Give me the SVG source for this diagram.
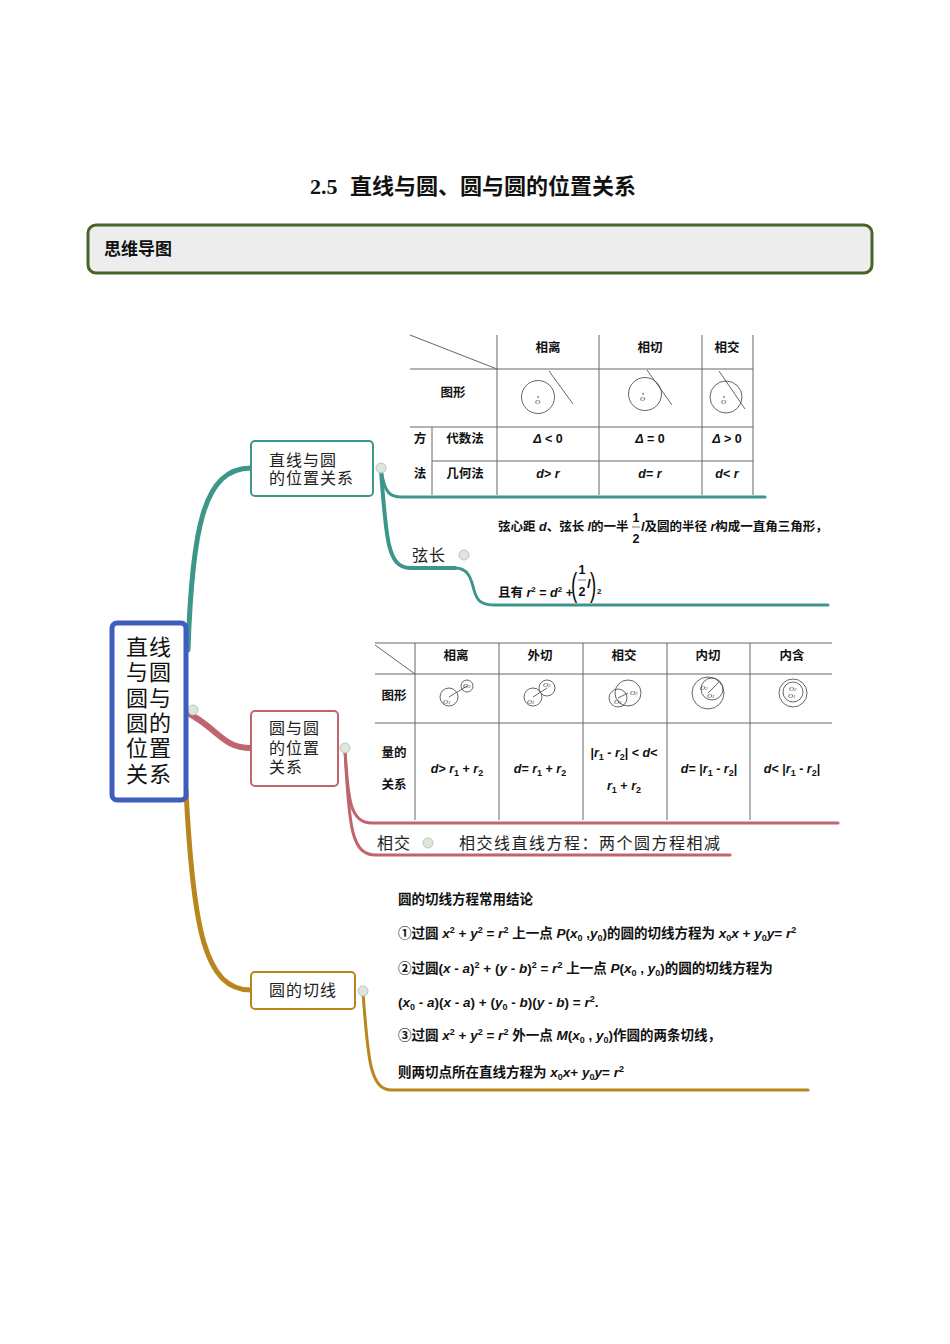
<svg xmlns="http://www.w3.org/2000/svg" width="950" height="1344" viewBox="0 0 950 1344">
<style>
.title{font-family:"Liberation Serif","Noto Sans CJK SC",serif;font-weight:bold;font-size:22px;fill:#111}
.hdr{font-family:"Noto Sans CJK SC",sans-serif;font-weight:bold;font-size:17px;fill:#111}
.nd{font-family:"Noto Sans CJK SC",sans-serif;font-size:16px;letter-spacing:1px;fill:#222}
.ctr{font-family:"Noto Sans CJK SC",sans-serif;font-size:22px;letter-spacing:1px;fill:#111}
.t{font-family:"Liberation Sans","Noto Sans CJK SC",sans-serif;font-weight:bold;font-size:12.5px;fill:#111}
.tn{font-family:"Liberation Sans","Noto Sans CJK SC",sans-serif;font-weight:bold;font-size:13.5px;fill:#111}
.tc{font-family:"Liberation Sans","Noto Sans CJK SC",sans-serif;font-weight:bold;font-size:12.5px;fill:#111;text-anchor:middle}
.i{font-style:italic}
.s{font-size:8px}
.s9{font-size:9px}
.tiny{font-family:"Liberation Serif",serif;font-style:italic;font-size:7px;fill:#333}
.grid{stroke:#666;stroke-width:1;fill:none}
.fig{stroke:#555;stroke-width:0.9;fill:none}
.teal{stroke:#3d968a;fill:none;stroke-linecap:round}
.pink{stroke:#c0646e;fill:none;stroke-linecap:round}
.gold{stroke:#b8861c;fill:none;stroke-linecap:round}
.knob{fill:#dfe7dc;stroke:#b9c7b6;stroke-width:1}
</style>

<!-- title and header -->
<text class="title" x="310" y="194">2.5<tspan x="350">直线与圆、圆与圆的位置关系</tspan></text>
<rect x="88" y="225" width="784" height="48" rx="8" fill="#ededed" stroke="#4a6328" stroke-width="3"/>
<text class="hdr" x="104" y="255">思维导图</text>

<!-- connectors -->
<g id="connectors">
  <path class="teal" d="M188,650 C192,530 203,468 251,468" stroke-width="5"/>
  <path class="pink" d="M186,712 C218,728 222,748 251,748" stroke-width="6"/>
  <path class="gold" d="M186,790 C193,930 205,990 251,990" stroke-width="5"/>

  <path class="teal" d="M381,470 C385,494 390,497 402,497 L765,497" stroke-width="3"/>
  <path class="teal" d="M381,470 C386,540 388,568 410,568 L455,568" stroke-width="4"/>
  <path class="teal" d="M455,568 C468,568 471,578 474,590 C477,601 481,605 495,605 L828,605" stroke-width="3"/>

  <path class="pink" d="M345,750 C348,800 350,823 372,823 L838,823" stroke-width="3"/>
  <path class="pink" d="M345,750 C349,830 352,855 376,855 L730,855" stroke-width="3"/>

  <path class="gold" d="M363,993 C368,1060 370,1090 392,1090 L808,1090" stroke-width="3"/>

  <circle class="knob" cx="193" cy="710" r="5"/>
  <circle class="knob" cx="381" cy="468" r="5"/>
  <circle class="knob" cx="464" cy="555" r="5"/>
  <circle class="knob" cx="345" cy="748" r="5"/>
  <circle class="knob" cx="428" cy="843" r="5"/>
  <circle class="knob" cx="363" cy="991" r="5"/>
</g>

<!-- central node -->
<g id="center">
  <rect x="112" y="623" width="74" height="177" rx="5" fill="#fff" stroke="#3f5cc0" stroke-width="5"/>
  <text class="ctr" x="126" y="655">直线<tspan x="126" dy="25">与圆</tspan><tspan x="126" dy="26">圆与</tspan><tspan x="126" dy="25">圆的</tspan><tspan x="126" dy="25">位置</tspan><tspan x="126" dy="26">关系</tspan></text>
</g>

<!-- node 1 -->
<g id="node-line-circle">
  <rect x="251" y="441" width="122" height="55" rx="4" fill="#fff" stroke="#3d968a" stroke-width="2"/>
  <text class="nd" x="269" y="466">直线与圆<tspan x="269" dy="18">的位置关系</tspan></text>
</g>

<!-- table 1 -->
<g id="table-line-circle">
  <path class="grid" d="M410,335 L497,369 M410,369 H753 M410,427 H753 M432,461 H753 M497,335 V495 M599,335 V495 M702,335 V495 M753,335 V495 M432,427 V495"/>
  <text class="tc" x="548" y="352">相离</text>
  <text class="tc" x="650" y="352">相切</text>
  <text class="tc" x="727" y="352">相交</text>
  <text class="tc" x="453" y="397">图形</text>
  <circle class="fig" cx="538" cy="397" r="16.5"/>
  <line class="fig" x1="549" y1="371" x2="573" y2="404"/>
  <circle cx="538" cy="397" r="0.8" fill="#333"/><text class="tiny" x="535" y="404">O</text>
  <circle class="fig" cx="645" cy="394" r="16.5"/>
  <line class="fig" x1="647" y1="370" x2="672" y2="405"/>
  <circle cx="643" cy="394" r="0.8" fill="#333"/><text class="tiny" x="640" y="401">O</text>
  <circle class="fig" cx="726" cy="397" r="16"/>
  <line class="fig" x1="719" y1="371" x2="745" y2="409"/>
  <circle cx="724" cy="397" r="0.8" fill="#333"/><text class="tiny" x="721" y="404">O</text>
  <text class="tc" x="420" y="443">方</text>
  <text class="tc" x="420" y="478">法</text>
  <text class="tc" x="465" y="443">代数法</text>
  <text class="tc" x="465" y="478">几何法</text>
  <text class="tc" x="548" y="443"><tspan class="i">Δ</tspan> &lt; 0</text>
  <text class="tc" x="650" y="443"><tspan class="i">Δ</tspan> = 0</text>
  <text class="tc" x="727" y="443"><tspan class="i">Δ</tspan> &gt; 0</text>
  <text class="tc" x="548" y="478"><tspan class="i">d</tspan>&gt; <tspan class="i">r</tspan></text>
  <text class="tc" x="650" y="478"><tspan class="i">d</tspan>= <tspan class="i">r</tspan></text>
  <text class="tc" x="727" y="478"><tspan class="i">d</tspan>&lt; <tspan class="i">r</tspan></text>
</g>

<!-- chord -->
<g id="node-chord">
  <text class="nd" x="412" y="561">弦长</text>
  <text class="t" x="498" y="531">弦心距 <tspan class="i">d</tspan>、弦长 <tspan class="i">l</tspan>的一半</text>
  <text class="tc" x="636" y="522">1</text>
  <line x1="632" y1="527" x2="640" y2="527" stroke="#555" stroke-width="0.8"/>
  <text class="tc" x="636" y="543">2</text>
  <text class="t" x="641" y="531"><tspan class="i">l</tspan>及圆的半径 <tspan class="i">r</tspan>构成一直角三角形，</text>
  <text class="t" x="498" y="597">且有 <tspan class="i">r</tspan><tspan class="s" dy="-5">2</tspan><tspan dy="5"> = </tspan><tspan class="i">d</tspan><tspan class="s" dy="-5">2</tspan><tspan dy="5"> +</tspan></text>
  <text x="571" y="596" font-family="Liberation Sans,sans-serif" font-size="34" fill="#111" transform="translate(571 596) scale(0.55 1) translate(-571 -596)">(</text>
  <text class="tc" x="582" y="574">1</text>
  <line x1="578" y1="580" x2="586" y2="580" stroke="#555" stroke-width="0.8"/>
  <text class="tc" x="582" y="596">2</text>
  <text class="t" x="587" y="588"><tspan class="i">l</tspan></text>
  <text x="590" y="596" font-family="Liberation Sans,sans-serif" font-size="34" fill="#111" transform="translate(590 596) scale(0.55 1) translate(-590 -596)">)</text>
  <text class="t s" x="597" y="594">2</text>
</g>

<!-- node 2 -->
<g id="node-circle-circle">
  <rect x="251" y="711" width="87" height="75" rx="4" fill="#fff" stroke="#c0646e" stroke-width="2"/>
  <text class="nd" x="269" y="734">圆与圆<tspan x="269" dy="20">的位置</tspan><tspan x="269" dy="19">关系</tspan></text>
</g>

<!-- table 2 -->
<g id="table-circle-circle">
  <path class="grid" d="M375,645 L415,674 M375,643 H832 M375,674 H832 M375,723 H832 M415,643 V820 M499,643 V820 M583,643 V820 M667,643 V820 M750,643 V820"/>
  <text class="tc" x="456" y="660">相离</text>
  <text class="tc" x="540" y="660">外切</text>
  <text class="tc" x="624" y="660">相交</text>
  <text class="tc" x="708" y="660">内切</text>
  <text class="tc" x="792" y="660">内含</text>
  <text class="tc" x="394" y="700">图形</text>
  <text class="tc" x="394" y="757">量的<tspan x="394" dy="32">关系</tspan></text>

  <circle class="fig" cx="449" cy="697" r="9"/><circle class="fig" cx="467" cy="686" r="6"/>
  <line class="fig" x1="449" y1="697" x2="467" y2="686"/>
  <text class="tiny" x="443" y="704">O<tspan font-size="5">1</tspan></text><text class="tiny" x="463" y="688">O<tspan font-size="5">2</tspan></text>

  <circle class="fig" cx="533" cy="697" r="9"/><circle class="fig" cx="547" cy="688" r="8"/>
  <line class="fig" x1="533" y1="697" x2="547" y2="688"/>
  <text class="tiny" x="527" y="704">O<tspan font-size="5">1</tspan></text><text class="tiny" x="543" y="687">O<tspan font-size="5">2</tspan></text>

  <circle class="fig" cx="618" cy="698" r="9"/><circle class="fig" cx="628" cy="693" r="13"/>
  <line class="fig" x1="618" y1="698" x2="628" y2="693"/>
  <text class="tiny" x="614" y="704">O<tspan font-size="5">1</tspan></text><text class="tiny" x="630" y="695">O<tspan font-size="5">2</tspan></text>

  <circle class="fig" cx="708" cy="693" r="16"/><circle class="fig" cx="712" cy="689" r="11"/>
  <line class="fig" x1="708" y1="693" x2="719" y2="682"/>
  <text class="tiny" x="700" y="690">O<tspan font-size="5">2</tspan></text><text class="tiny" x="707" y="698">O<tspan font-size="5">1</tspan></text>

  <circle class="fig" cx="793" cy="693" r="14"/><circle class="fig" cx="793" cy="692" r="10"/>
  <text class="tiny" x="789" y="691">O<tspan font-size="5">2</tspan></text><text class="tiny" x="788" y="698">O<tspan font-size="5">1</tspan></text>

  <text class="tc" x="457" y="773"><tspan class="i">d</tspan>&gt; <tspan class="i">r</tspan><tspan class="s9" dy="3">1</tspan><tspan dy="-3"> + </tspan><tspan class="i">r</tspan><tspan class="s9" dy="3">2</tspan></text>
  <text class="tc" x="540" y="773"><tspan class="i">d</tspan>= <tspan class="i">r</tspan><tspan class="s9" dy="3">1</tspan><tspan dy="-3"> + </tspan><tspan class="i">r</tspan><tspan class="s9" dy="3">2</tspan></text>
  <text class="tc" x="624" y="757">|<tspan class="i">r</tspan><tspan class="s9" dy="3">1</tspan><tspan dy="-3"> - </tspan><tspan class="i">r</tspan><tspan class="s9" dy="3">2</tspan><tspan dy="-3">| &lt; </tspan><tspan class="i">d</tspan>&lt;<tspan x="624" dy="33" class="i">r</tspan><tspan class="s9" dy="3">1</tspan><tspan dy="-3"> + </tspan><tspan class="i">r</tspan><tspan class="s9" dy="3">2</tspan></text>
  <text class="tc" x="709" y="773"><tspan class="i">d</tspan>= |<tspan class="i">r</tspan><tspan class="s9" dy="3">1</tspan><tspan dy="-3"> - </tspan><tspan class="i">r</tspan><tspan class="s9" dy="3">2</tspan><tspan dy="-3">|</tspan></text>
  <text class="tc" x="792" y="773"><tspan class="i">d</tspan>&lt; |<tspan class="i">r</tspan><tspan class="s9" dy="3">1</tspan><tspan dy="-3"> - </tspan><tspan class="i">r</tspan><tspan class="s9" dy="3">2</tspan><tspan dy="-3">|</tspan></text>
</g>

<g id="node-intersect">
  <text class="nd" x="377" y="849">相交</text>
  <text class="nd" x="459" y="849" style="letter-spacing:1.5px">相交线直线方程：两个圆方程相减</text>
</g>

<!-- node 3 -->
<g id="node-tangent">
  <rect x="251" y="972" width="104" height="37" rx="4" fill="#fff" stroke="#b8861c" stroke-width="2"/>
  <text class="nd" x="269" y="996">圆的切线</text>
</g>

<g id="tangent-notes">
  <text class="tn" x="398" y="904">圆的切线方程常用结论</text>
  <text class="tn" x="398" y="938">①过圆 <tspan class="i">x</tspan><tspan class="s9" dy="-5">2</tspan><tspan dy="5"> + </tspan><tspan class="i">y</tspan><tspan class="s9" dy="-5">2</tspan><tspan dy="5"> = </tspan><tspan class="i">r</tspan><tspan class="s9" dy="-5">2</tspan><tspan dy="5"> 上一点 </tspan><tspan class="i">P</tspan>(<tspan class="i">x</tspan><tspan class="s9" dy="3">0</tspan><tspan dy="-3"> ,</tspan><tspan class="i">y</tspan><tspan class="s9" dy="3">0</tspan><tspan dy="-3">)的圆的切线方程为 </tspan><tspan class="i">x</tspan><tspan class="s9" dy="3">0</tspan><tspan class="i" dy="-3">x</tspan> + <tspan class="i">y</tspan><tspan class="s9" dy="3">0</tspan><tspan class="i" dy="-3">y</tspan>= <tspan class="i">r</tspan><tspan class="s9" dy="-5">2</tspan></text>
  <text class="tn" x="398" y="973">②过圆(<tspan class="i">x</tspan> - <tspan class="i">a</tspan>)<tspan class="s9" dy="-5">2</tspan><tspan dy="5"> + (</tspan><tspan class="i">y</tspan> - <tspan class="i">b</tspan>)<tspan class="s9" dy="-5">2</tspan><tspan dy="5"> = </tspan><tspan class="i">r</tspan><tspan class="s9" dy="-5">2</tspan><tspan dy="5"> 上一点 </tspan><tspan class="i">P</tspan>(<tspan class="i">x</tspan><tspan class="s9" dy="3">0</tspan><tspan dy="-3"> , </tspan><tspan class="i">y</tspan><tspan class="s9" dy="3">0</tspan><tspan dy="-3">)的圆的切线方程为</tspan></text>
  <text class="tn" x="398" y="1007">(<tspan class="i">x</tspan><tspan class="s9" dy="3">0</tspan><tspan dy="-3"> - </tspan><tspan class="i">a</tspan>)(<tspan class="i">x</tspan> - <tspan class="i">a</tspan>) + (<tspan class="i">y</tspan><tspan class="s9" dy="3">0</tspan><tspan dy="-3"> - </tspan><tspan class="i">b</tspan>)(<tspan class="i">y</tspan> - <tspan class="i">b</tspan>) = <tspan class="i">r</tspan><tspan class="s9" dy="-5">2</tspan><tspan dy="5">.</tspan></text>
  <text class="tn" x="398" y="1040">③过圆 <tspan class="i">x</tspan><tspan class="s9" dy="-5">2</tspan><tspan dy="5"> + </tspan><tspan class="i">y</tspan><tspan class="s9" dy="-5">2</tspan><tspan dy="5"> = </tspan><tspan class="i">r</tspan><tspan class="s9" dy="-5">2</tspan><tspan dy="5"> 外一点 </tspan><tspan class="i">M</tspan>(<tspan class="i">x</tspan><tspan class="s9" dy="3">0</tspan><tspan dy="-3"> , </tspan><tspan class="i">y</tspan><tspan class="s9" dy="3">0</tspan><tspan dy="-3">)作圆的两条切线，</tspan></text>
  <text class="tn" x="398" y="1077">则两切点所在直线方程为 <tspan class="i">x</tspan><tspan class="s9" dy="3">0</tspan><tspan class="i" dy="-3">x</tspan>+ <tspan class="i">y</tspan><tspan class="s9" dy="3">0</tspan><tspan class="i" dy="-3">y</tspan>= <tspan class="i">r</tspan><tspan class="s9" dy="-5">2</tspan></text>
</g>
</svg>
